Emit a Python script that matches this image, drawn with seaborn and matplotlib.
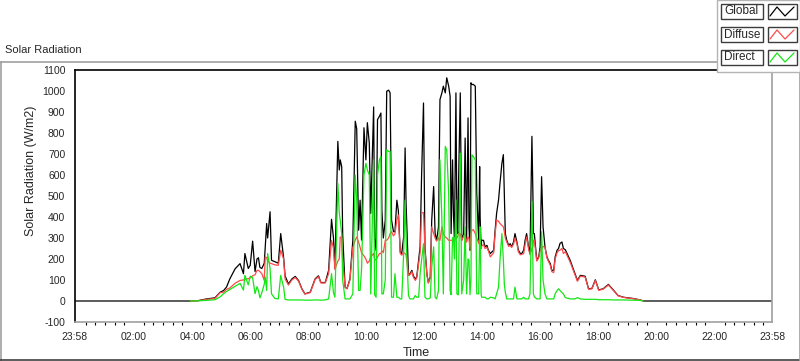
import matplotlib
matplotlib.use("Agg")
import matplotlib.pyplot as plt
from matplotlib.lines import Line2D
from matplotlib.patches import Rectangle
import pandas as pd
import seaborn as sns

# minutes after midnight
MINUTES = [
    -2, 236, 253, 270, 287, 298, 305, 311, 318, 329,
    339, 346, 349, 356, 360, 365, 370, 374, 377, 380,
    384, 389, 391, 394, 396, 401, 404, 411, 418, 423,
    429, 432, 439, 446, 453, 460, 467, 473, 484, 494,
    501, 506, 515, 522, 528, 532, 535, 541, 544, 546,
    549, 551, 556, 560, 566, 572, 577, 580, 584, 587,
    590, 595, 599, 602, 606, 609, 615, 617, 620, 623,
    627, 630, 632, 635, 639, 642, 646, 649, 652, 656,
    659, 663, 666, 670, 673, 677, 680, 682, 687, 690,
    694, 697, 701, 704, 708, 711, 714, 718, 721, 725,
    728, 732, 735, 739, 742, 745, 749, 752, 756, 759,
    763, 766, 770, 773, 775, 778, 780, 782, 785, 787,
    789, 790, 794, 797, 801, 804, 807, 810, 812, 814,
    816, 818, 821, 825, 828, 832, 834, 835, 837, 838,
    842, 845, 849, 852, 856, 863, 866, 869, 873, 876,
    880, 883, 885, 887, 890, 894, 897, 900, 904, 907,
    911, 914, 918, 921, 925, 928, 931, 935, 938, 942,
    944, 945, 947, 952, 956, 959, 962, 965, 969, 973,
    976, 980, 983, 987, 990, 994, 997, 1000, 1004, 1007,
    1011, 1021, 1031, 1036, 1042, 1052, 1059, 1066, 1073, 1080,
    1089, 1100, 1110, 1120, 1131, 1151, 1166, 1172, 1438,
]

GLOBAL = [
    0, 0, 2, 10, 15, 42, 50, 66, 106, 154,
    178, 130, 226, 155, 170, 285, 140, 200, 206, 160,
    155, 180, 257, 369, 300, 425, 194, 187, 180, 321,
    206, 120, 81, 105, 117, 97, 57, 34, 42, 105,
    120, 88, 88, 146, 389, 300, 155, 760, 624, 672,
    640, 321, 66, 59, 105, 289, 856, 820, 337, 480,
    290, 825, 672, 849, 752, 417, 924, 300, 241, 864,
    880, 895, 433, 300, 385, 999, 1004, 991, 385, 330,
    330, 480, 430, 234, 226, 305, 729, 465, 122, 130,
    146, 120, 105, 114, 194, 258, 592, 943, 255, 130,
    88, 114, 385, 545, 321, 289, 353, 959, 991, 1023,
    991, 1063, 1023, 975, 321, 672, 400, 305, 991, 350,
    321, 513, 991, 289, 321, 776, 289, 872, 353, 242,
    1039, 1031, 1031, 1023, 513, 289, 640, 400, 258, 289,
    289, 258, 265, 242, 226, 242, 337, 417, 480, 560,
    656, 697, 513, 321, 289, 265, 273, 258, 281, 321,
    281, 242, 226, 226, 242, 290, 321, 258, 226, 784,
    513, 321, 321, 194, 210, 258, 592, 353, 258, 210,
    194, 178, 146, 146, 210, 242, 250, 274, 281, 250,
    244, 194, 130, 98, 122, 118, 58, 60, 101, 53,
    58, 79, 53, 26, 18, 12, 5, 0, 0,
]

# None = no sample (sensor only logs during daylight)
DIFFUSE = [
    None, 0, 1, 8, 12, 40, 42, 55, 62, 85,
    98, 100, 104, 106, 110, 120, 125, 146, 146, 140,
    130, 98, 210, 206, 190, 180, 178, 172, 170, 242,
    200, 105, 76, 100, 112, 94, 55, 33, 40, 102,
    116, 86, 86, 130, 289, 250, 150, 190, 200, 305,
    300, 194, 66, 58, 100, 255, 290, 305, 280, 255,
    230, 215, 200, 180, 190, 210, 226, 200, 194, 210,
    226, 226, 240, 230, 289, 289, 300, 321, 330, 310,
    320, 385, 410, 226, 218, 230, 226, 220, 122, 125,
    140, 114, 98, 110, 178, 230, 421, 421, 242, 125,
    85, 110, 353, 321, 300, 285, 300, 289, 353, 320,
    305, 300, 289, 289, 289, 290, 290, 289, 305, 300,
    310, 321, 320, 289, 310, 321, 280, 305, 300, 240,
    320, 337, 340, 321, 300, 273, 300, 280, 250, 260,
    270, 250, 255, 240, 210, 230, 321, 385, 380, 369,
    360, 353, 330, 300, 281, 260, 265, 255, 270, 300,
    273, 234, 220, 222, 226, 270, 305, 250, 220, 250,
    260, 290, 290, 190, 205, 240, 250, 260, 255, 205,
    190, 170, 140, 135, 200, 230, 240, 242, 250, 226,
    235, 185, 125, 94, 118, 114, 56, 58, 98, 51,
    56, 76, 51, 25, 17, 11, 5, 0, None,
]

DIRECT = [
    None, 0, 1, 3, 6, 20, 35, 45, 55, 70,
    84, 52, 122, 77, 118, 110, 35, 68, 50, 15,
    40, 80, 114, 50, 226, 155, 34, 12, 10, 122,
    66, 8, 5, 5, 5, 5, 5, 4, 4, 5,
    5, 4, 5, 10, 130, 40, 18, 560, 420, 385,
    320, 100, 10, 10, 10, 34, 600, 480, 50, 50,
    150, 600, 656, 624, 600, 34, 672, 30, 18, 600,
    672, 688, 34, 34, 100, 720, 712, 712, 18, 18,
    130, 18, 18, 10, 10, 226, 480, 300, 26, 10,
    10, 10, 26, 18, 18, 130, 194, 273, 18, 10,
    10, 15, 162, 258, 18, 10, 50, 672, 385, 34,
    736, 720, 513, 50, 30, 300, 305, 200, 481, 34,
    30, 30, 704, 34, 100, 353, 34, 200, 194, 30,
    100, 696, 688, 672, 34, 34, 300, 353, 34, 18,
    18, 18, 10, 10, 18, 15, 10, 34, 66, 194,
    321, 194, 80, 42, 10, 10, 10, 10, 10, 66,
    10, 10, 10, 10, 18, 10, 10, 10, 34, 474,
    200, 34, 20, 10, 10, 10, 330, 100, 34, 10,
    10, 10, 10, 10, 34, 50, 58, 50, 40, 34,
    16, 10, 10, 16, 10, 8, 8, 8, 8, 6,
    6, 6, 5, 5, 5, 4, 3, 0, None,
]

SERIES = ["Global", "Diffuse", "Direct"]
COLORS = {"Global": "#000000", "Diffuse": "#ff4a4a", "Direct": "#14e614"}

TICK_MINUTES = [-2, 120, 240, 360, 480, 600, 720, 840, 960, 1080, 1200, 1320, 1438]
TICK_LABELS = ["23:58", "02:00", "04:00", "06:00", "08:00", "10:00", "12:00",
               "14:00", "16:00", "18:00", "20:00", "22:00", "23:58"]
Y_TICKS = list(range(-100, 1101, 100))

sns.set_style("white")
plt.rcParams["font.family"] = ["Liberation Sans", "DejaVu Sans"]
plt.rcParams["axes.unicode_minus"] = False

W, H = 800, 361


def fx(px):
    return px / W


def fy(py):
    return 1 - py / H


df = pd.DataFrame({
    "Time": MINUTES * 3,
    "Value": GLOBAL + DIFFUSE + DIRECT,
    "Series": [s for s in SERIES for _ in MINUTES],
})
df["Value"] = pd.to_numeric(df["Value"])
df = df.dropna()

fig = plt.figure(figsize=(8, 3.61), dpi=100)
fig.patch.set_facecolor("white")
ax = fig.add_axes([fx(75), fy(322), fx(772) - fx(75), fy(70) - fy(322)])

sns.lineplot(data=df, x="Time", y="Value", hue="Series", hue_order=SERIES,
             palette=COLORS, estimator=None, linewidth=0.9, legend=False, ax=ax)

ax.set_xlim(-2, 1438)
ax.set_ylim(-100, 1100)
ax.set_xticks(TICK_MINUTES)
ax.set_xticklabels(TICK_LABELS)
ax.set_xticks(list(range(20, 1438, 20)), minor=True)
ax.set_yticks(Y_TICKS)
ax.tick_params(axis="both", which="major", labelsize=7.5, color="black",
               direction="out", width=1)
ax.tick_params(axis="x", which="major", length=4, pad=3)
ax.tick_params(axis="x", which="minor", length=2.2, width=0.8, color="black",
               bottom=True)
ax.tick_params(axis="y", which="major", length=5, pad=2)

ax.set_xlabel("Time", fontsize=9)
ax.set_ylabel("Solar Radiation (W/m2)", fontsize=9)
ax.xaxis.set_label_coords(0.49, -0.10)
ax.yaxis.set_label_coords(-0.055, 0.6)

for side in ["left", "top"]:
    ax.spines[side].set_color("black")
    ax.spines[side].set_linewidth(1.2)
for side in ["right", "bottom"]:
    ax.spines[side].set_color("#a0a0a0")
    ax.spines[side].set_linewidth(1.2)

# outer frame of the graph control
frame_lines = [
    ([0, 717], [61.5, 61.5], "#a0a0a0"),
    ([0.5, 0.5], [61.5, 361], "#a0a0a0"),
    ([0, 800], [359.5, 359.5], "#404040"),
    ([799.5, 799.5], [72, 361], "#a0a0a0"),
]
for xs, ys, c in frame_lines:
    fig.add_artist(Line2D([fx(x) for x in xs], [fy(y) for y in ys],
                          color=c, linewidth=1.2, transform=fig.transFigure))

fig.text(fx(5), fy(50), "Solar Radiation", fontsize=8, ha="left", va="center")

# legend panel, top right
fig.add_artist(Rectangle((fx(717), fy(72)), fx(800) - fx(717), fy(0) - fy(72),
                         facecolor="white", edgecolor="#b4b4b4", linewidth=1,
                         transform=fig.transFigure, zorder=5))
row_top = [4, 27, 50]
for name, top in zip(SERIES, row_top):
    bottom = top + 15
    fig.add_artist(Rectangle((fx(721), fy(bottom)), fx(763) - fx(721), fy(top) - fy(bottom),
                             facecolor="white", edgecolor="#3c3c3c", linewidth=1,
                             transform=fig.transFigure, zorder=6))
    fig.add_artist(Rectangle((fx(768), fy(bottom)), fx(797) - fx(768), fy(top) - fy(bottom),
                             facecolor="white", edgecolor="#3c3c3c", linewidth=1,
                             transform=fig.transFigure, zorder=6))
    fig.text(fx(724), fy((top + bottom) / 2), name, fontsize=8.5, ha="left", va="center",
             zorder=7)
    zx = [770, 777, 785, 794]
    zy = [bottom - 3, top + 3, bottom - 3, top + 3]
    fig.add_artist(Line2D([fx(x) for x in zx], [fy(y) for y in zy], color=COLORS[name],
                          linewidth=0.9, transform=fig.transFigure, zorder=7))

fig.savefig("out.png", dpi=100)
